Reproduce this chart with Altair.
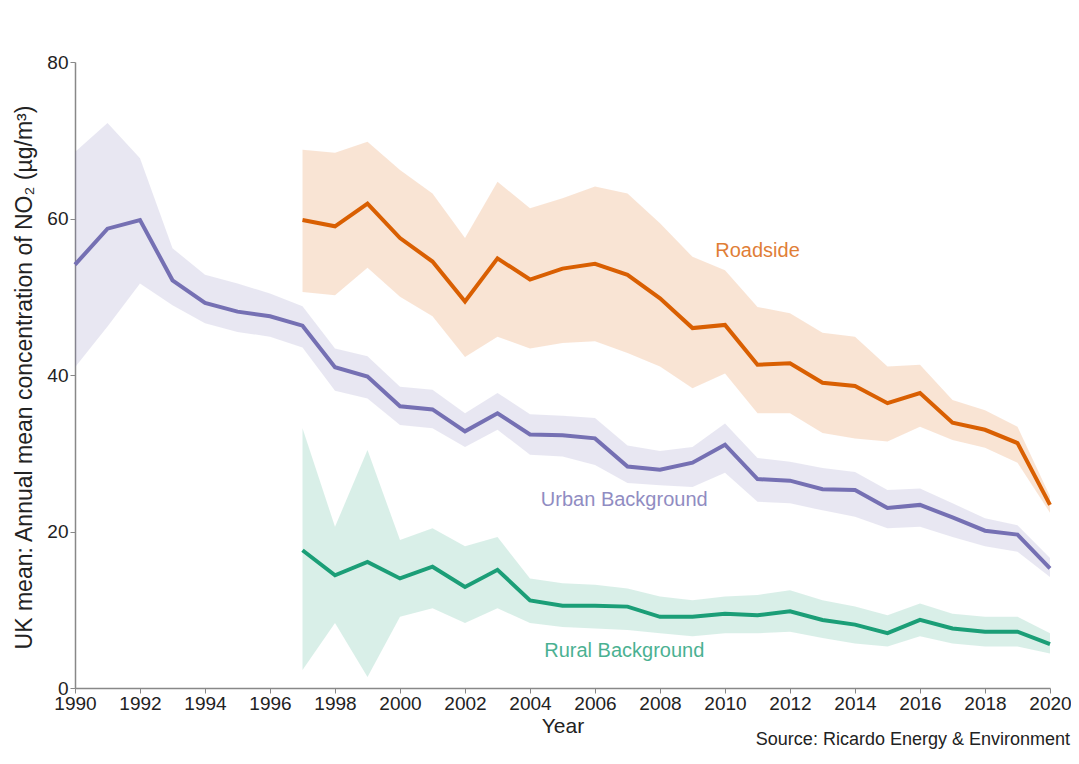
import altair as alt
import pandas as pd

# ---------------- data ----------------
years_ub = list(range(1990, 2021))
urban = [54.1, 58.7, 59.8, 52.1, 49.2, 48.1, 47.5, 46.3, 41.0, 39.8, 36.0, 35.6, 32.8, 35.1, 32.4,
         32.3, 31.9, 28.3, 27.9, 28.8, 31.1, 26.7, 26.5, 25.4, 25.3, 23.0, 23.4, 21.8, 20.1, 19.6, 15.3]
urban_lo = [41.0, 46.2, 51.7, 48.9, 46.6, 45.5, 44.9, 43.5, 38.0, 37.0, 33.6, 33.2, 30.8, 33.0, 29.8,
            29.6, 28.5, 26.2, 25.9, 25.7, 27.5, 23.8, 23.6, 22.7, 21.9, 20.4, 20.6, 19.3, 18.1, 17.4, 14.2]
urban_hi = [68.5, 72.2, 67.7, 56.2, 52.8, 51.7, 50.4, 48.8, 43.4, 42.4, 38.5, 38.1, 35.1, 37.7, 35.0,
            34.8, 34.5, 31.0, 30.3, 30.8, 33.8, 29.4, 28.9, 28.1, 27.6, 25.3, 25.5, 23.6, 21.7, 20.8, 16.6]

years_rs = list(range(1997, 2021))
road = [59.8, 59.0, 61.9, 57.5, 54.5, 49.4, 54.9, 52.2, 53.6, 54.2, 52.8, 49.8, 46.0, 46.4, 41.3,
        41.5, 39.0, 38.6, 36.4, 37.7, 33.9, 33.0, 31.3, 23.4]
road_lo = [50.6, 50.2, 53.7, 50.0, 47.5, 42.3, 44.9, 43.4, 44.1, 44.3, 42.8, 41.1, 38.3, 40.2, 35.1,
           35.1, 32.6, 31.9, 31.5, 33.4, 31.7, 30.7, 28.8, 22.4]
road_hi = [68.8, 68.4, 69.8, 66.2, 63.2, 57.5, 64.7, 61.3, 62.6, 64.1, 63.2, 59.4, 55.1, 53.4, 48.7,
           47.9, 45.4, 44.9, 41.1, 41.3, 36.8, 35.5, 33.4, 24.5]

years_rb = list(range(1997, 2021))
rural = [17.6, 14.4, 16.1, 14.0, 15.5, 12.9, 15.1, 11.2, 10.5, 10.5, 10.4, 9.1, 9.1, 9.5, 9.3,
         9.8, 8.7, 8.1, 7.0, 8.7, 7.6, 7.2, 7.2, 5.6]
rural_lo = [2.3, 8.3, 1.4, 9.1, 10.2, 8.3, 10.2, 8.3, 7.8, 7.6, 7.4, 7.0, 6.6, 7.0, 7.0,
            7.2, 6.4, 5.7, 5.3, 6.6, 5.7, 5.3, 5.3, 4.4]
rural_hi = [33.2, 20.6, 30.4, 18.9, 20.4, 18.1, 19.3, 14.0, 13.4, 13.2, 12.7, 11.7, 11.2, 11.7, 11.9,
            12.5, 11.2, 10.4, 9.3, 10.8, 9.5, 9.1, 9.1, 7.0]

series_names = ["Urban Background", "Roadside", "Rural Background"]
series_colors = ["#7570B3", "#D95F02", "#1B9E77"]

label_text = ["Roadside", "Urban Background", "Rural Background"]
label_year = [2011.0, 2006.9, 2006.9]
label_value = [55.8, 24.0, 4.7]

x_tick_values = list(range(1990, 2021, 2))
y_tick_values = [0, 20, 40, 60, 80]

y_title = "UK mean: Annual mean concentration of NO\u2082 (\u00b5g/m\u00b3)"
source_text = "Source: Ricardo Energy & Environment"

# ---------------- tables ----------------
frames = []
for name, yrs, v, lo, hi in [
    ("Urban Background", years_ub, urban, urban_lo, urban_hi),
    ("Roadside", years_rs, road, road_lo, road_hi),
    ("Rural Background", years_rb, rural, rural_lo, rural_hi),
]:
    frames.append(pd.DataFrame({"series": name, "year": yrs, "value": v, "lower": lo, "upper": hi}))
df = pd.concat(frames, ignore_index=True)

labels_df = pd.DataFrame({"series": label_text, "year": label_year, "value": label_value})

FONT = "Liberation Sans"
W, H = 975, 626

color = alt.Color("series:N", scale=alt.Scale(domain=series_names, range=series_colors), legend=None)

x_enc = alt.X(
    "year:Q",
    scale=alt.Scale(domain=[1990, 2020], nice=False, zero=False),
    axis=alt.Axis(values=x_tick_values, format="d", title="Year", grid=False,
                  labelFontSize=19, titleFontSize=21, labelPadding=1, titlePadding=2,
                  labelOverlap=False, labelFlush=False),
)
y_enc = alt.Y(
    "lower:Q",
    scale=alt.Scale(domain=[0, 80], nice=False),
    axis=alt.Axis(values=y_tick_values, title=y_title, grid=False,
                  labelFontSize=19, titleFontSize=23, titleX=-39, titleY=H / 2 + 2),
)

base = alt.Chart(df)

bands = base.mark_area(opacity=0.17).encode(
    x=x_enc, y=y_enc, y2="upper:Q", color=color, detail="series:N"
)

lines = base.mark_line(strokeWidth=4).encode(
    x="year:Q", y="value:Q", color=color, detail="series:N"
)

labels = alt.Chart(labels_df).mark_text(fontSize=20, font=FONT, opacity=0.8).encode(
    x="year:Q", y="value:Q", text="series:N", color=color
)

source = alt.Chart(pd.DataFrame({"t": [source_text]})).mark_text(
    fontSize=18, font=FONT, align="right", baseline="alphabetic", color="#222"
).encode(text="t:N", x=alt.value(W + 20), y=alt.value(H + 57))

chart = (
    alt.layer(bands, lines, labels, source)
    .properties(width=W, height=H, autosize=alt.AutoSizeParams(type="none"),
                padding={"left": 67, "top": 54, "right": 21, "bottom": 62})
    .configure_view(stroke=None)
    .configure_axis(
        labelFont=FONT, titleFont=FONT, labelColor="#222", titleColor="#222",
        titleFontWeight="normal", domainColor="#888", domainWidth=1.5,
        tickColor="#888", tickSize=5,
    )
)

chart.save("out.html", embed_options={"renderer": "svg", "actions": False})
